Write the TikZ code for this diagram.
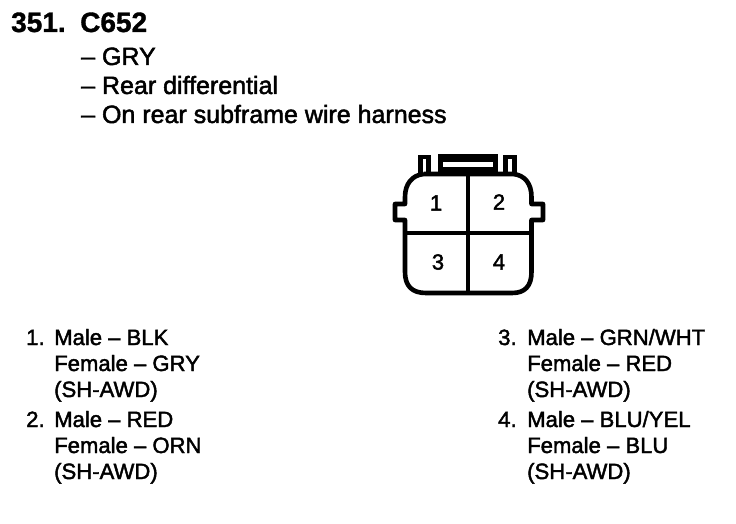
\documentclass[tikz,border=0pt]{standalone}
\usepackage{fontspec}
\setmainfont{Liberation Sans}[BoldFeatures={FakeBold=1.2}]
\newfontfamily\fatfont[FakeBold=1.9]{Liberation Sans}
\tikzset{
	txt/.style={anchor=base west,inner sep=0pt,font=\fatfont\fontsize{22.1}{26}\selectfont},
	hdtxt/.style={anchor=base west,inner sep=0pt,font=\fatfont\fontsize{25}{30}\selectfont},
	titletxt/.style={anchor=base west,inner sep=0pt,font=\fontsize{28}{32}\selectfont\bfseries},
	pin/.style={inner sep=0pt,font=\fatfont\fontsize{22}{26}\selectfont},
	wall/.style={line width=4.6pt,line join=round},
	divider/.style={line width=4pt},
	post/.style={line width=4.5pt,line join=miter}
}
\begin{document}
\begin{tikzpicture}[x=1pt,y=-1pt]
	\useasboundingbox (0,0) rectangle (736,524);
	\node[titletxt] (num) at (11,32) {351.};
	\node[titletxt] (code) at (80,32) {C652};
	\node[hdtxt] (l1) at (81,65) {– GRY};
	\node[hdtxt] (l2) at (81,94) {– Rear differential};
	\node[hdtxt] (l3) at (81,123) {– On rear subframe wire harness};
	% connector outline
	\draw[wall] (424,174) -- (513,174) .. controls (525,175) and (531.5,184) .. (531.5,197) -- (531.5,204) -- (543,204) -- (543,220) -- (531.5,220) -- (531.5,272) .. controls (531.5,286) and (525,293) .. (512,293) -- (426,293) .. controls (412,293) and (405,286) .. (405,272) -- (405,220) -- (395,220) -- (395,204) -- (405,204) -- (405,197) .. controls (405,184) and (412,175) .. (424,174);
	\draw[divider] (468,174) -- (468,293); % divider
	\draw[divider] (405,233) -- (531.5,233);
	% latch on top
	\draw[post] (420.5,174) -- (420.5,157) -- (428.5,157) -- (428.5,174);
	\draw[post] (505.5,174) -- (505.5,157) -- (514.5,157) -- (514.5,174);
	\fill (438,154) rectangle (498,172);
	\fill[white] (443,162) rectangle (493,167);
	\node[pin] (p1) at (436,203) {1};
	\node[pin] (p2) at (499,202) {2};
	\node[pin] (p3) at (438,262) {3};
	\node[pin] (p4) at (499,262) {4};
	% left column
	\node[txt] (a1) at (26,345) {1.};
	\node[txt] (a2) at (54,345) {Male – BLK};
	\node[txt] (a3) at (54,371) {Female – GRY};
	\node[txt] (a4) at (54,397) {(SH-AWD)};
	\node[txt] (b1) at (26,427) {2.};
	\node[txt] (b2) at (54,427) {Male – RED};
	\node[txt] (b3) at (54,453) {Female – ORN};
	\node[txt] (b4) at (54,479) {(SH-AWD)};
	% right column
	\node[txt] (c1) at (498,345) {3.};
	\node[txt] (c2) at (527,345) {Male – GRN/WHT};
	\node[txt] (c3) at (527,371) {Female – RED};
	\node[txt] (c4) at (527,397) {(SH-AWD)};
	\node[txt] (d1) at (498,427) {4.};
	\node[txt] (d2) at (527,427) {Male – BLU/YEL};
	\node[txt] (d3) at (527,453) {Female – BLU};
	\node[txt] (d4) at (527,479) {(SH-AWD)};
\end{tikzpicture}
\end{document}
